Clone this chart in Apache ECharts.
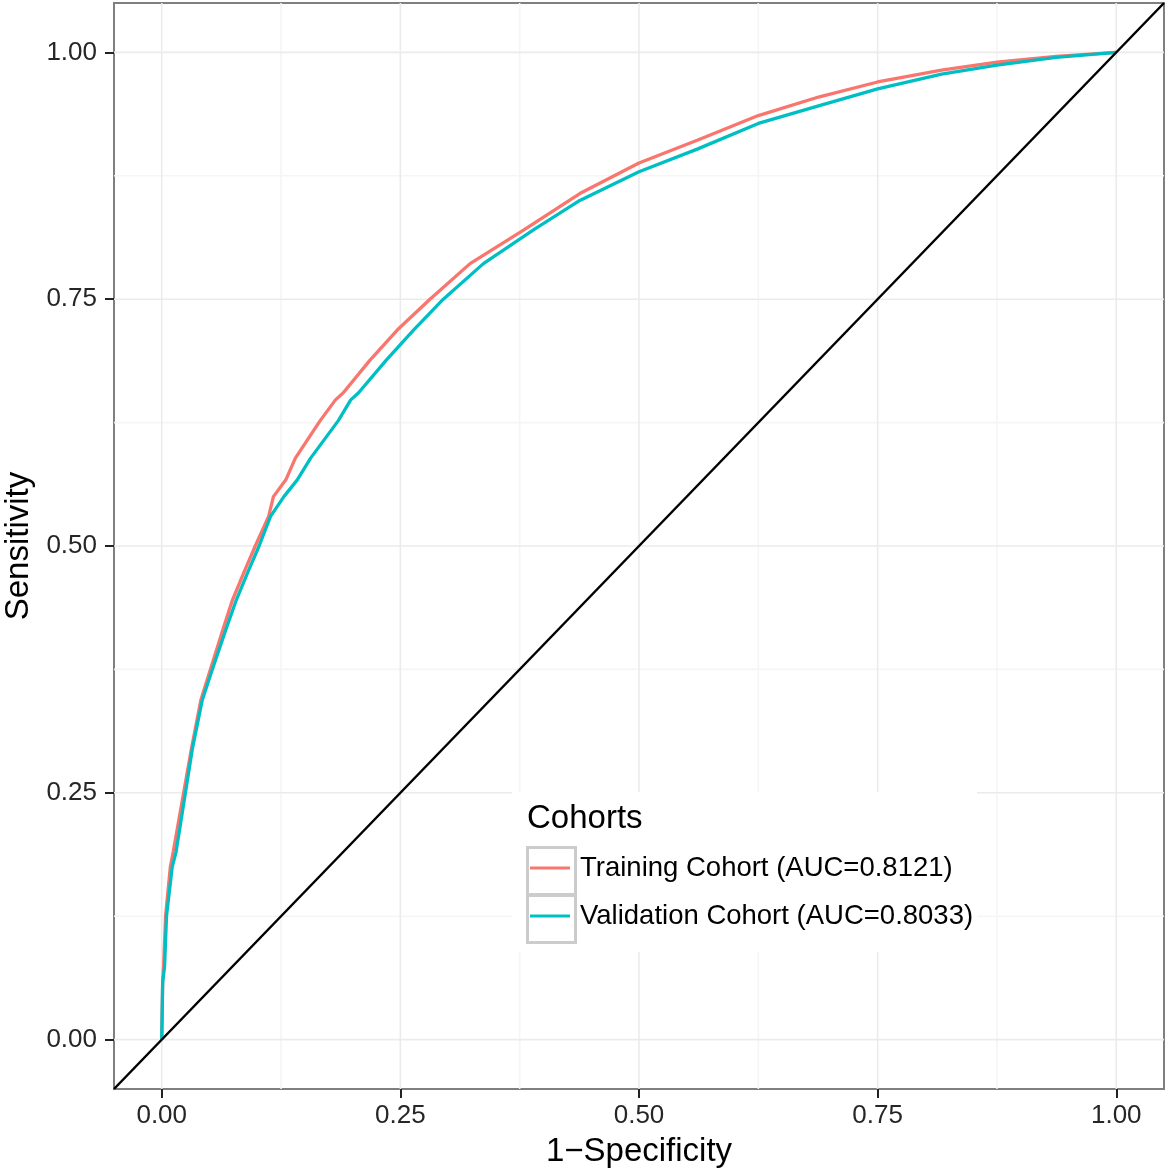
<!DOCTYPE html>
<html>
<head>
<meta charset="utf-8">
<script src="https://cdn.jsdelivr.net/npm/echarts@6/dist/echarts.min.js"></script>
<style>
html,body{margin:0;padding:0;background:#fff;}
#main{width:1166px;height:1171px;}
</style>
</head>
<body>
<div id="main"></div>
<script>
// ROC curves
var trainFpr=[0,0.001,0.002,0.004,0.009,0.012,0.022,0.031,0.041,0.051,0.063,0.074,0.086,0.098,0.112,0.117,0.130,0.140,0.166,0.182,0.190,0.218,0.247,0.281,0.323,0.379,0.438,0.5,0.561,0.625,0.689,0.75,0.817,0.875,0.937,1];
var trainTpr=[0,0.06,0.074,0.125,0.175,0.19,0.245,0.294,0.344,0.375,0.412,0.445,0.473,0.50,0.53,0.55,0.567,0.589,0.627,0.648,0.655,0.688,0.719,0.75,0.786,0.82,0.857,0.888,0.911,0.936,0.955,0.970,0.982,0.990,0.996,1];
var validFpr=[0,0.001,0.003,0.005,0.011,0.015,0.024,0.032,0.0425,0.053,0.066,0.078,0.090,0.102,0.114,0.128,0.142,0.156,0.185,0.198,0.206,0.235,0.264,0.295,0.337,0.389,0.438,0.5,0.561,0.625,0.689,0.75,0.817,0.875,0.937,1];
var validTpr=[0,0.058,0.074,0.125,0.175,0.19,0.245,0.294,0.344,0.375,0.412,0.445,0.473,0.50,0.53,0.55,0.567,0.589,0.627,0.648,0.655,0.688,0.719,0.75,0.786,0.82,0.85,0.879,0.902,0.928,0.946,0.963,0.978,0.987,0.995,1];
var seriesNames=['Training Cohort (AUC=0.8121)','Validation Cohort (AUC=0.8033)'];
var tickValues=[0,0.25,0.5,0.75,1];
var minorValues=[0.125,0.375,0.625,0.875];
var axisRange=[-0.05,1.05];

function pairs(xs,ys){
	var out=[];
	for(var i=0;i<xs.length;i++){out.push([xs[i],ys[i]]);}
	return out;
}

var font='"Liberation Sans", Arial, sans-serif';

// panel grid lines, drawn as plain line series on the axes
var gridSeries=[];
function addGrid(vals,color){
	vals.forEach(function(v){
		gridSeries.push({type:'line',silent:true,symbol:'none',z:1,data:[[v,axisRange[0]],[v,axisRange[1]]],lineStyle:{color:color,width:1.6}});
		gridSeries.push({type:'line',silent:true,symbol:'none',z:1,data:[[axisRange[0],v],[axisRange[1],v]],lineStyle:{color:color,width:1.6}});
	});
}
addGrid(minorValues,'#f5f5f5');
addGrid(tickValues,'#ebebeb');

var myChart=echarts.init(document.getElementById('main'));
var option={
	backgroundColor:'#fff',
	animation:false,
	grid:{
		left:114,right:2,top:3,bottom:82,outerBoundsMode:'none',containLabel:false,
		show:true,borderColor:'#7f7f7f',borderWidth:2,backgroundColor:'#fff'
	},
	xAxis:{
		type:'value',min:axisRange[0],max:axisRange[1],
		name:'1\u2212Specificity',nameLocation:'middle',nameGap:46,
		nameTextStyle:{fontFamily:font,fontSize:33,color:'#000'},
		axisLine:{show:false,onZero:false},
		splitLine:{show:false},
		axisTick:{show:true,customValues:tickValues,length:9,lineStyle:{color:'#222',width:2}},
		axisLabel:{customValues:tickValues,margin:14,fontFamily:font,fontSize:26,color:'#262626',
			formatter:function(v){return v.toFixed(2);}}
	},
	yAxis:{
		type:'value',min:axisRange[0],max:axisRange[1],
		name:'Sensitivity',nameLocation:'middle',nameGap:78,
		nameTextStyle:{fontFamily:font,fontSize:33,color:'#000'},
		axisLine:{show:false,onZero:false},
		splitLine:{show:false},
		axisTick:{show:true,customValues:tickValues,length:9,lineStyle:{color:'#222',width:2}},
		axisLabel:{customValues:tickValues,margin:17,fontFamily:font,fontSize:26,color:'#262626',
			formatter:function(v){return v.toFixed(2);}}
	},
	legend:{
		orient:'vertical',left:530,top:853,padding:0,
		itemWidth:40,itemHeight:3,itemGap:18,icon:'rect',z:10,
		textStyle:{fontFamily:font,fontSize:27.5,color:'#000',lineHeight:30,padding:[0,0,0,5]},
		data:seriesNames
	},
	graphic:[
		{type:'rect',z:5,left:512,top:792,shape:{width:465,height:160},style:{fill:'#fff'}},
		{type:'text',z:10,left:527,top:802,style:{text:'Cohorts',font:'33px '+font,fill:'#000'}},
		{type:'rect',z:9,left:525,top:845,shape:{width:48,height:47},style:{fill:'none',stroke:'#cccccc',lineWidth:3}},
		{type:'rect',z:9,left:525,top:893,shape:{width:48,height:47},style:{fill:'none',stroke:'#cccccc',lineWidth:3}}
	],
	series:gridSeries.concat([
		{
			name:seriesNames[0],type:'line',data:pairs(trainFpr,trainTpr),
			symbol:'none',z:3,lineStyle:{color:'#F8766D',width:3.3},itemStyle:{color:'#F8766D'}
		},
		{
			name:seriesNames[1],type:'line',data:pairs(validFpr,validTpr),
			symbol:'none',z:4,lineStyle:{color:'#00BFC4',width:3.3},itemStyle:{color:'#00BFC4'}
		},
		{
			name:'diag',type:'line',data:pairs(axisRange,axisRange),
			symbol:'none',z:4,lineStyle:{color:'#000',width:2.5}
		}
	])
};
myChart.setOption(option);
</script>
</body>
</html>
